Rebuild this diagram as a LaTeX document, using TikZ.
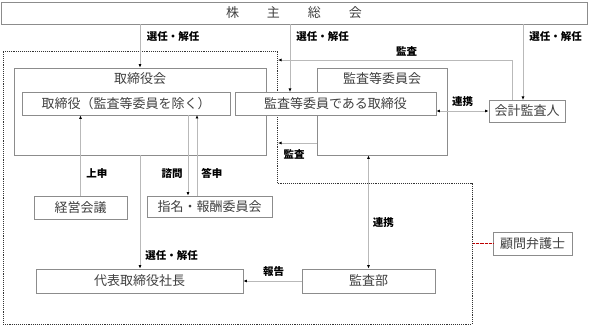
\documentclass[tikz,border=0pt]{standalone}
\usepackage{fontspec}
\setmainfont{Noto Sans CJK JP}
\usepackage{tikz}
\usetikzlibrary{arrows.meta,positioning,calc}

\begin{document}
\begin{tikzpicture}[
  x=1pt, y=-1pt,
  every node/.style={font=\fontsize{13}{15}\selectfont},
  box/.style={draw=gray!90, line width=0.8pt, fill=white, text=black!75, inner sep=0pt},
  ttl/.style={text=black!75, inner sep=0pt},
  lbl/.style={font=\fontsize{10.5}{12}\selectfont\bfseries, inner sep=1.5pt},
  conn/.style={draw=gray!55, line width=0.8pt, -{Latex[length=3.5pt,width=3pt,color=black]}},
  both/.style={draw=gray!55, line width=0.8pt, {Latex[length=3.5pt,width=3pt,color=black]}-{Latex[length=3.5pt,width=3pt,color=black]}}
]
\useasboundingbox (0,0) rectangle (591,326);

\draw[densely dotted, line width=0.9pt, black!80] (3,51) -- (277,51) -- (277,183) -- (472,183) -- (472,324) -- (3,324) -- cycle;

\node[box, minimum width=586pt, minimum height=22pt] (soukai) at (294,13) {株\hspace{28pt}主\hspace{28pt}総\hspace{28pt}会};

\node[box, minimum width=252pt, minimum height=87pt] (torikai) at (140,111.5) {};
\node[box, minimum width=130pt, minimum height=87pt] (kansaikai) at (382,111.5) {};
\node[ttl] (torikaiT) at (140,79) {取締役会};
\node[ttl] (kansaikaiT) at (382,79) {監査等委員会};

\node[box, minimum width=208pt, minimum height=23pt] (torishimari) at (126,103.5) {取締役（監査等委員を除く）};
\node[box, minimum width=201pt, minimum height=23pt] (kansatori) at (335.5,103.5) {監査等委員である取締役};
\node[box, minimum width=76pt, minimum height=22pt] (kaikei) at (527,111) {会計監査人};
\node[box, minimum width=93pt, minimum height=23pt] (keiei) at (80.5,207.5) {経営会議};
\node[box, minimum width=125pt, minimum height=21pt] (shimei) at (209.5,206.5) {指名・報酬委員会};
\node[box, minimum width=207pt, minimum height=24pt] (shacho) at (139.5,281) {代表取締役社長};
\node[box, minimum width=133pt, minimum height=24pt] (kansabu) at (368.5,281) {監査部};
\node[box, minimum width=79pt, minimum height=23pt] (komon) at (532.5,243.5) {顧問弁護士};

\coordinate (senA) at (290,92);
\coordinate (senB) at (523,100);
\coordinate (kanA) at (512,100);
\coordinate (bndA) at (278,60);
\coordinate (bndB) at (278,143);
\coordinate (bndC) at (473,243.5);
\coordinate (shimon) at (188,115);
\coordinate (toushin) at (197,115);

\draw[conn] (soukai.south -| torikai.north) -- node[lbl, pos=0.27, right=5pt] {選任・解任} (torikai.north);
\draw[conn] (soukai.south -| senA) -- node[lbl, pos=0.18, right=4.5pt] {選任・解任} (senA);
\draw[conn] (soukai.south -| senB) -- node[lbl, pos=0.16, right=4.5pt] {選任・解任} (senB);
\draw[conn] (kaikei.north -| kanA) |- node[lbl, pos=0.725, above=1.5pt] {監査} (bndA);
\draw[conn] (kansaikai.west |- bndB) -- node[lbl, pos=0.58, below=4.5pt] {監査} (bndB);
\draw[both] (kaikei.west -| kansatori.east) -- node[lbl, above=2.5pt] {連携} (kaikei.west);
\draw[conn] (keiei.north) -- node[lbl, pos=0.28, right=4pt] {上申} (keiei.north |- torishimari.south);
\draw[conn] (shimon) -- node[lbl, pos=0.72, left=3.5pt] {諮問} (shimon |- shimei.north);
\draw[conn] (shimei.north -| toushin) -- node[lbl, pos=0.28, right=2.5pt] {答申} (toushin);
\draw[conn] (torikai.south) -- node[lbl, pos=0.88, right=3.5pt] {選任・解任} (torikai.south |- shacho.north);
\draw[conn] (kansabu.west) -- node[lbl, pos=0.48, above=2.5pt] {報告} (kansabu.west -| shacho.east);
\draw[both] (kansabu.north) -- node[lbl, pos=0.41, right=2.5pt] {連携} (kansabu.north |- kansaikai.south);
\draw[dash pattern=on 0.9pt off 0.4pt, line width=1.3pt, red!75!black] (bndC) -- (komon.west);
\end{tikzpicture}
\end{document}
